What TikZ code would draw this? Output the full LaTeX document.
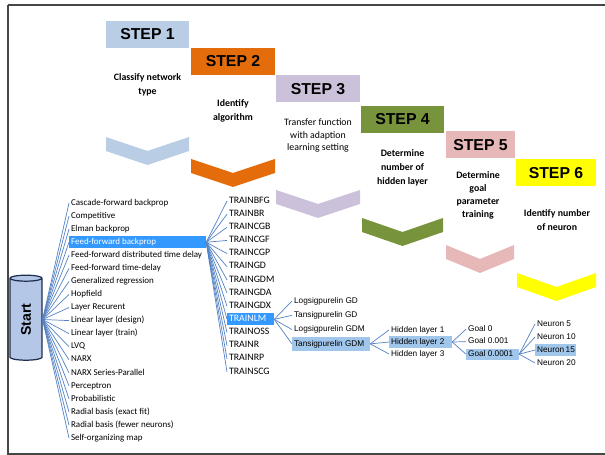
\documentclass[tikz,border=0pt]{standalone}
\usepackage{fontspec}
\setmainfont{Carlito}
\newfontfamily\arialfont{Liberation Sans}
\usepackage{tikz}
\usetikzlibrary{shapes.geometric}
\definecolor{stepblue}{RGB}{185, 205, 229}
\definecolor{steporange}{RGB}{228, 108, 10}
\definecolor{steplilac}{RGB}{204, 193, 218}
\definecolor{stepgreen}{RGB}{119, 147, 60}
\definecolor{steppink}{RGB}{230, 185, 184}
\definecolor{stepyellow}{RGB}{255, 255, 0}
\definecolor{hlblue}{RGB}{51, 153, 255}
\definecolor{hllight}{RGB}{160, 198, 236}
\definecolor{linkblue}{RGB}{84, 130, 195}
\definecolor{startfill}{RGB}{180, 199, 231}
\definecolor{startline}{RGB}{31, 45, 80}
\tikzset{
    stepbox/.style ={minimum height=0.54cm, inner sep=0pt, font=\arialfont\bfseries\fontsize{9}{10}\selectfont},
    steptext/.style={align=center, font=\bfseries\fontsize{5.6}{7.9}\selectfont},
    item/.style    ={anchor=west, inner xsep=1pt, inner ysep=1pt, text height=3.6pt, text depth=1.1pt,
                     font=\fontsize{5.1}{6}\selectfont},
    titem/.style   ={item, font=\fontsize{5.6}{6}\selectfont},
    aitem/.style   ={item, text height=3.4pt, text depth=1pt, font=\arialfont\fontsize{4.7}{5.5}\selectfont},
    wide/.style    ={execute at begin node={\hbox to #1\bgroup}, execute at end node={\hfil\egroup}},
    netpick/.style ={item,  fill=hlblue,  text=white, wide=2.66cm},
    algpick/.style ={titem, fill=hlblue,  text=white, wide=0.86cm},
    funpick/.style ={aitem, fill=hllight, wide=1.48cm, inner ysep=1.8pt},
    hidpick/.style ={aitem, fill=hllight, wide=1.18cm},
    goalpick/.style={aitem, fill=hllight, wide=0.98cm},
    neupick/.style ={aitem, fill=hllight, wide=0.74cm},
    link/.style    ={draw=linkblue, line width=0.4pt},
}

\begin{document}
\begin{tikzpicture}[x=0.02cm, y=-0.02cm]
        \useasboundingbox (0,0) rectangle (605,455);
        % frame
        \draw[gray!55!black, line width=1.4pt] (8,5) -- (605,5);
        \draw[gray!55!black, line width=0.7pt] (8,5) -- (8,454) -- (605,454);

        % steps
        \node[stepbox, fill=stepblue,   minimum width=1.66cm] (step1) at (147.5, 34.5) {STEP 1};
        \node[stepbox, fill=steporange, minimum width=1.68cm] (step2) at (233.0, 61.5) {STEP 2};
        \node[stepbox, fill=steplilac,  minimum width=1.68cm] (step3) at (318.0, 89.0) {STEP 3};
        \node[stepbox, fill=stepgreen,  minimum width=1.66cm] (step4) at (402.5,119.5) {STEP 4};
        \node[stepbox, fill=steppink,   minimum width=1.38cm] (step5) at (480.5,145.0) {STEP 5};
        \node[stepbox, fill=stepyellow, minimum width=1.60cm] (step6) at (556.0,173.0) {STEP 6};

        \node[steptext]                                      (task1) at (147.5, 84.5) {Classify network\\type};
        \node[steptext]                                      (task2) at (233.0,111.0) {Identify\\algorithm};
        \node[steptext, font=\fontsize{5.6}{7.1}\selectfont] (task3) at (318.0,135.5) {Transfer function\\with adaption\\learning setting};
        \node[steptext]                                      (task4) at (402.5,167.5) {Determine\\number of\\hidden layer};
        \node[steptext, font=\bfseries\fontsize{5.6}{7.4}\selectfont] (task5) at (478.0,195.0) {Determine\\goal\\parameter\\training};
        \node[steptext]                                      (task6) at (557.0,220.0) {Identify number\\of neuron};

        \fill[stepblue]   (106,137) -- (147.5,151) -- (189,137) -- (189,151) -- (147.5,165) -- (106,151) -- cycle;
        \fill[steporange] (191,159) -- (233.0,173) -- (275,159) -- (275,173) -- (233.0,187) -- (191,173) -- cycle;
        \fill[steplilac]  (276,190) -- (318.0,204) -- (360,190) -- (360,204) -- (318.0,218) -- (276,204) -- cycle;
        \fill[stepgreen]  (362,218) -- (402.5,232) -- (443,218) -- (443,232) -- (402.5,246) -- (362,232) -- cycle;
        \fill[steppink]   (446,245) -- (480.0,259) -- (514,245) -- (514,259) -- (480.0,273) -- (446,259) -- cycle;
        \fill[stepyellow] (517,273) -- (556.5,287) -- (596,273) -- (596,287) -- (556.5,301) -- (517,287) -- cycle;

        % start
        \node[cylinder, rotate=90, draw=startline, fill=startfill, line width=0.7pt, aspect=0.6,
              minimum width=0.64cm, minimum height=1.7cm, inner sep=0pt,
              font=\arialfont\bfseries\fontsize{8}{9}\selectfont] (start) at (26,319.5) {Start};

        % network type
        \foreach \name/\sty [count=\i] in {Cascade-forward backprop/item, Competitive/item, Elman backprop/item,
                Feed-forward backprop/netpick, Feed-forward distributed time delay/item, Feed-forward time-delay/item,
                Generalized regression/item, Hopfield/item, Layer Recurent/item, Linear layer (design)/item,
                Linear layer (train)/item, LVQ/item, NARX/item, NARX Series-Parallel/item, Perceptron/item,
                Probabilistic/item, Radial basis (exact fit)/item, Radial basis (fewer neurons)/item, Self-organizing map/item}
        {
            \node[\sty] (net\i) at (69,{190+13.06*\i}) {\name};
            \draw[link] (start.south) -- (net\i.west);
        }

        % algorithm
        \foreach \name/\sty [count=\i] in {TRAINBFG/titem, TRAINBR/titem, TRAINCGB/titem, TRAINCGF/titem, TRAINCGP/titem,
                TRAINGD/titem, TRAINGDM/titem, TRAINGDA/titem, TRAINGDX/titem, TRAINLM/algpick, TRAINOSS/titem,
                TRAINR/titem, TRAINRP/titem, TRAINSCG/titem}
        {
            \node[\sty] (alg\i) at (227,{187.85+13.15*\i}) {\name};
            \draw[link] (net4.east) -- (alg\i.west);
        }

        % transfer function
        \foreach \name/\sty [count=\i] in {Logsigpurelin GD/aitem, Tansigpurelin GD/aitem,
                Logsigpurelin GDM/aitem, Tansigpurelin GDM/funpick}
        {
            \node[\sty] (fun\i) at (292,{286.7+14.3*\i}) {\name};
            \draw[link] (alg10.east) -- (fun\i.west);
        }

        % hidden layer
        \foreach \name/\sty [count=\i] in {Hidden layer 1/aitem, Hidden layer 2/hidpick, Hidden layer 3/aitem}
        {
            \node[\sty] (hid\i) at (389,{318+12*\i}) {\name};
            \draw[link] (fun4.east) -- (hid\i.west);
        }

        % goal
        \foreach \name/\sty [count=\i] in {Goal 0/aitem, Goal 0.001/aitem, Goal 0.0001/goalpick}
        {
            \node[\sty] (goal\i) at (466,{316.7+12.5*\i}) {\name};
            \draw[link] (hid2.east) -- (goal\i.west);
        }

        % neuron
        \foreach \name/\sty [count=\i] in {Neuron 5/aitem, Neuron 10/aitem, Neuron 15/neupick, Neuron 20/aitem}
        {
            \node[\sty] (neu\i) at (535,{311+13*\i}) {\name};
            \draw[link] (goal3.east) -- (neu\i.west);
        }
\end{tikzpicture}
\end{document}
